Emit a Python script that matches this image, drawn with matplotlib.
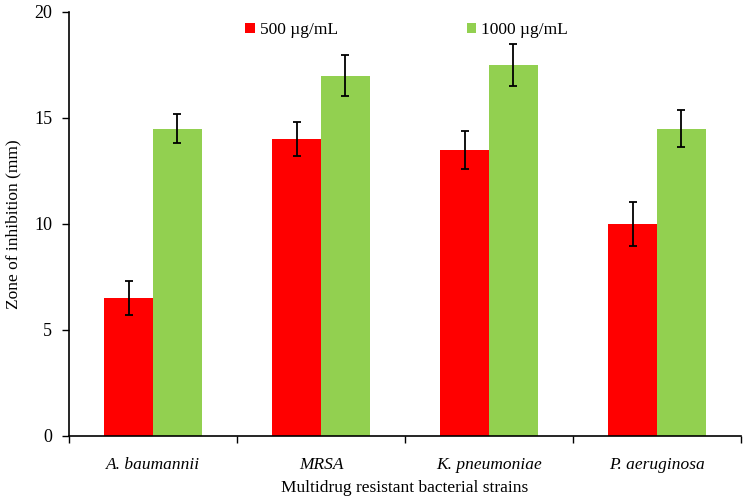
import numpy as np
import matplotlib.pyplot as plt

# data
strains = ["A. baumannii", "MRSA", "K. pneumoniae", "P. aeruginosa"]
zone_500 = [6.5, 14.0, 13.5, 10.0]
err_500 = [0.8, 0.8, 0.9, 1.05]
zone_1000 = [14.5, 17.0, 17.5, 14.5]
err_1000 = [0.7, 0.95, 1.0, 0.87]

plt.rcParams['font.family'] = ['Liberation Serif', 'DejaVu Serif']

fig = plt.figure(figsize=(7.5, 5), dpi=100)
ax = fig.add_axes([0.092, 0.128, 0.896, 0.848])

x = np.arange(len(strains))
w = 0.29
ax.bar(x - w / 2, zone_500, w, color="#ff0000", label="500 µg/mL",
       yerr=err_500, capsize=3, error_kw=dict(elinewidth=1.3, capthick=1.3, ecolor="black"))
ax.bar(x + w / 2, zone_1000, w, color="#92d050", label="1000 µg/mL",
       yerr=err_1000, capsize=3, error_kw=dict(elinewidth=1.3, capthick=1.3, ecolor="black"))

ax.set_xlim(-0.5, len(strains) - 0.5)
ax.set_ylim(0, 20)
ax.set_yticks([0, 5, 10, 15, 20])
ax.set_xticks(x)
ax.set_xticklabels(strains, style="italic")
ax.set_xticks(np.arange(-0.5, len(strains), 1), minor=True)
ax.tick_params(axis="x", which="major", length=0, pad=15, labelsize=12.5)
ax.tick_params(axis="x", which="minor", length=5, width=1)
ax.tick_params(axis="y", length=5, width=1, labelsize=13, pad=7)

for s in ["top", "right"]:
    ax.spines[s].set_visible(False)
ax.spines["left"].set_linewidth(1.2)
ax.spines["bottom"].set_linewidth(1.2)

ax.set_xlabel("Multidrug resistant bacterial strains", fontsize=12.5, labelpad=5)
ax.set_ylabel("Zone of inhibition (mm)", fontsize=12.5, labelpad=9)

ax.legend(loc="upper left", bbox_to_anchor=(0.2495, 0.996), ncol=2, frameon=False,
          fontsize=12.5, borderpad=0, handlelength=0.55, handleheight=0.55,
          handletextpad=0.3, columnspacing=7.4)

fig.savefig("out.png")
